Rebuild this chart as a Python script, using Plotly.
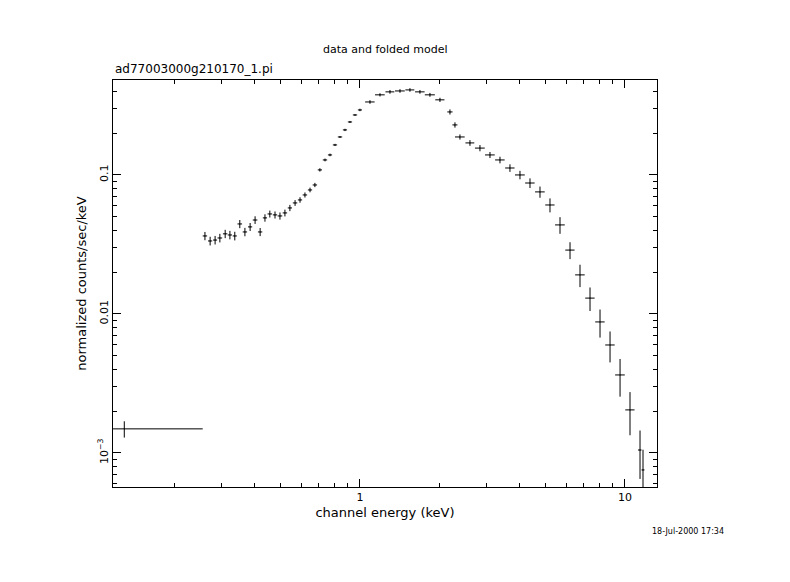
import plotly.graph_objects as go

energy = [0.129, 0.260, 0.272, 0.284, 0.296, 0.310, 0.323, 0.337, 0.352, 0.368, 0.385, 0.402, 0.420, 0.438, 0.457,
          0.478, 0.499, 0.521, 0.544, 0.569, 0.594, 0.620, 0.648, 0.676, 0.706, 0.738, 0.771, 0.805, 0.841,
          0.878, 0.917, 0.958, 1.0, 1.091, 1.190, 1.298, 1.416, 1.544, 1.684, 1.837, 2.004, 2.186, 2.283,
          2.384, 2.601, 2.837, 3.095, 3.376, 3.682, 4.017, 4.382, 4.780, 5.214, 5.688, 6.205, 6.768, 7.383,
          8.054, 8.786, 9.584, 10.45, 11.40, 11.70]
rate = [0.00149, 0.0364, 0.0335, 0.0340, 0.0352, 0.0377, 0.0370, 0.0364, 0.0444, 0.0389, 0.0423, 0.0474, 0.0389,
        0.0491, 0.0524, 0.0516, 0.0507, 0.0533, 0.0579, 0.0629, 0.0661, 0.0718, 0.0780, 0.0847, 0.1087,
        0.1282, 0.1393, 0.1644, 0.1876, 0.2108, 0.2405, 0.2701, 0.2935, 0.335, 0.377, 0.396, 0.402, 0.409,
        0.396, 0.377, 0.347, 0.284, 0.229, 0.1876, 0.170, 0.156, 0.1393, 0.1282, 0.1122, 0.100, 0.0875,
        0.0755, 0.0608, 0.0437, 0.0288, 0.0191, 0.0130, 0.00876, 0.00598, 0.00364, 0.00204, 0.00105, 0.000755]
e_lo = [0.012, 0.005, 0.005, 0.005, 0.006, 0.006, 0.006, 0.006, 0.007, 0.007, 0.007, 0.008, 0.008, 0.008, 0.009,
        0.009, 0.010, 0.010, 0.010, 0.011, 0.011, 0.012, 0.012, 0.013, 0.013, 0.014, 0.014, 0.015, 0.016,
        0.016, 0.017, 0.018, 0.018, 0.045, 0.05, 0.05, 0.06, 0.06, 0.07, 0.08, 0.08, 0.05, 0.05, 0.1, 0.1,
        0.12, 0.13, 0.14, 0.15, 0.17, 0.18, 0.2, 0.21, 0.24, 0.25, 0.28, 0.3, 0.33, 0.36, 0.4, 0.42, 0.2, 0.15]
e_hi = [0.126, 0.005, 0.005, 0.005, 0.006, 0.006, 0.006, 0.006, 0.007, 0.007, 0.007, 0.008, 0.008, 0.008, 0.009,
        0.009, 0.010, 0.010, 0.010, 0.011, 0.011, 0.012, 0.012, 0.013, 0.013, 0.014, 0.014, 0.015, 0.016,
        0.016, 0.017, 0.018, 0.018, 0.045, 0.05, 0.05, 0.06, 0.06, 0.07, 0.08, 0.08, 0.05, 0.05, 0.1, 0.1,
        0.12, 0.13, 0.14, 0.15, 0.17, 0.18, 0.2, 0.21, 0.24, 0.25, 0.28, 0.3, 0.33, 0.36, 0.4, 0.42, 0.15, 0.15]
rate_err = [0.0002, 0.0025, 0.0024, 0.0024, 0.0025, 0.0026, 0.0026, 0.0026, 0.003, 0.0027, 0.0028, 0.003, 0.0026,
            0.003, 0.003, 0.003, 0.003, 0.003, 0.003, 0.003, 0.003, 0.003, 0.003, 0.003, 0.003, 0.003, 0.003,
            0.003, 0.003, 0.004, 0.004, 0.004, 0.006, 0.01, 0.01, 0.012, 0.012, 0.012, 0.012, 0.012, 0.012,
            0.012, 0.01, 0.008, 0.008, 0.008, 0.007, 0.007, 0.007, 0.007, 0.007, 0.007, 0.007, 0.006, 0.004,
            0.0035, 0.0025, 0.002, 0.0015, 0.0011, 0.0007, 0.0004, 0.0003]

fig = go.Figure(go.Scatter(
    x=energy, y=rate, mode="markers", marker=dict(size=1, color="black"),
    error_x=dict(type="data", symmetric=False, array=e_hi, arrayminus=e_lo, color="black", thickness=1, width=0),
    error_y=dict(type="data", array=rate_err, color="black", thickness=1, width=0),
    showlegend=False))

font = dict(family="DejaVu Sans", size=11, color="black")
W, H = 544, 407
fig.update_layout(
    width=790, height=582, paper_bgcolor="white", plot_bgcolor="white",
    margin=dict(l=105, r=141, t=72, b=103), font=font,
    xaxis=dict(type="log", range=[-0.932, 1.121], showgrid=False, zeroline=False,
               showline=True, linecolor="black", linewidth=1, mirror="ticks",
               ticks="inside", ticklen=8, tickcolor="black",
               tickvals=[1, 10], ticktext=["1", "10"],
               minor=dict(ticks="inside", ticklen=4, tickcolor="black",
                          tickvals=[0.2, 0.3, 0.4, 0.5, 0.6, 0.7, 0.8, 0.9, 2, 3, 4, 5, 6, 7, 8, 9]),
               title=dict(text="channel energy (keV)", standoff=4)),
    yaxis=dict(type="log", range=[-3.245, -0.317], showgrid=False, zeroline=False,
               showline=True, linecolor="black", linewidth=1, mirror="ticks",
               ticks="inside", ticklen=8, tickcolor="black", tickangle=-90,
               tickvals=[0.001, 0.01, 0.1], ticktext=["10<sup>−3</sup>", "0.01", "0.1"],
               minor=dict(ticks="inside", ticklen=4, tickcolor="black",
                          tickvals=[0.0006, 0.0007, 0.0008, 0.0009, 0.002, 0.003, 0.004, 0.005, 0.006, 0.007,
                                    0.008, 0.009, 0.02, 0.03, 0.04, 0.05, 0.06, 0.07, 0.08, 0.09, 0.2, 0.3, 0.4]),
               title=dict(text="normalized counts/sec/keV", standoff=6)),
    annotations=[
        dict(text="data and folded model", x=0.5, y=1.0, xref="paper", yref="paper", yshift=22,
             xanchor="center", yanchor="bottom", showarrow=False, font=font),
        dict(text="ad77003000g210170_1.pi", x=0, y=1.0, xref="paper", yref="paper", yshift=2,
             xanchor="left", yanchor="bottom", showarrow=False, font=dict(family="DejaVu Sans", size=12, color="black")),
        dict(text="18-Jul-2000 17:34", x=(688 - 113) / W, y=-(531 - 487) / H, xref="paper", yref="paper",
             xanchor="center", yanchor="middle",
             showarrow=False, font=dict(family="DejaVu Sans", size=8, color="black")),
    ],
)
fig.write_html("out.html")
